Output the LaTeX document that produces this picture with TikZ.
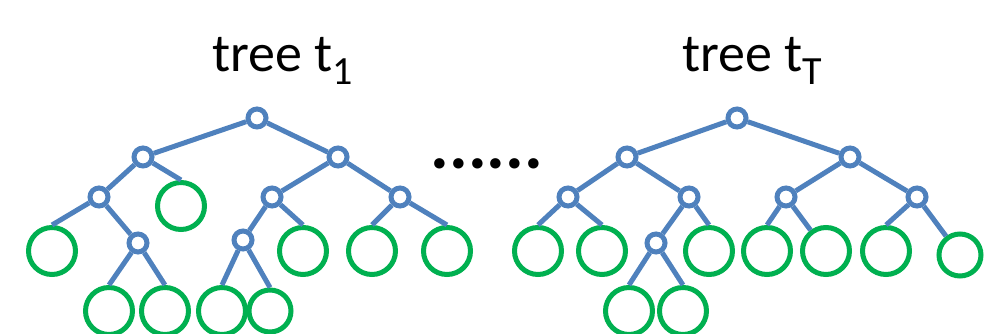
\documentclass[tikz,border=0pt]{standalone}
\usepackage{fontspec}
\setmainfont{Carlito}
\definecolor{tblue}{HTML}{4F81BD}
\definecolor{tgreen}{HTML}{00B050}
\begin{document}
\begin{tikzpicture}[x=1pt,y=-1pt,
  inner/.style={circle,draw=tblue,line width=5pt,fill=white,minimum size=18pt,inner sep=0pt},
  leaf/.style={circle,draw=tgreen,line width=5pt,fill=white,minimum size=47pt,inner sep=0pt},
  sleaf/.style={leaf,minimum size=42pt},
  edge/.style={tblue,line width=5pt},
  title/.style={anchor=base,inner sep=0pt,font=\fontsize{54}{54}\selectfont}]
\useasboundingbox (0,0) rectangle (994,334);
\clip (0,0) rectangle (994,334);
% titles
\node[title] (ti1) at (283,72) {tree t\raisebox{-13pt}{\fontsize{40}{40}\selectfont 1}};
\node[title] (ti2) at (752,72) {tree t\raisebox{-13pt}{\fontsize{40}{40}\selectfont T}};
\node[anchor=base,inner sep=0pt,font=\fontsize{70}{70}\selectfont\bfseries] (dots) at (487,169) {......};
% tree 1 leaves
\node[leaf] (a) at (181,206) {};
\node[leaf] (b) at (52,251) {};
\node[leaf] (c) at (109,311) {};
\node[leaf] (d) at (165,311) {};
\node[leaf] (e) at (303,251) {};
\node[leaf] (f) at (222,311) {};
\node[sleaf] (g) at (270,311) {};
\node[leaf] (h) at (372,251) {};
\node[leaf] (i) at (447,251) {};
% tree 1 inner nodes
\node[inner] (r1) at (257,118) {};
\node[inner] (A) at (143,157) {};
\node[inner] (B) at (338,157) {};
\node[inner] (A1) at (99,197) {};
\node[inner] (A1r) at (138,243) {};
\node[inner] (B1) at (272,197) {};
\node[inner] (B2) at (400,197) {};
\node[inner] (B1l) at (243,240) {};
% tree 1 edges
\draw[edge] (r1) -- (A);
\draw[edge] (r1) -- (B);
\draw[edge] (A) -- (A1);
\draw[edge] (A) -- (a.north);
\draw[edge] (A1) -- (b.north);
\draw[edge] (A1) -- (A1r);
\draw[edge] (A1r) -- (c.north);
\draw[edge] (A1r) -- (d.north);
\draw[edge] (B) -- (B1);
\draw[edge] (B) -- (B2);
\draw[edge] (B1) -- (B1l);
\draw[edge] (B1) -- (e.north);
\draw[edge] (B1l) -- (f.north);
\draw[edge] (B1l) -- (g.north);
\draw[edge] (B2) -- (h.north);
\draw[edge] (B2) -- (i.north);
% tree 2 leaves
\node[leaf] (p) at (538,251) {};
\node[leaf] (q) at (602,251) {};
\node[leaf] (s) at (709,251) {};
\node[leaf] (u) at (629,311) {};
\node[leaf] (v) at (683,311) {};
\node[leaf] (w) at (767,251) {};
\node[leaf] (x) at (826,251) {};
\node[leaf] (y) at (886,251) {};
\node[sleaf] (z) at (960,255) {};
% tree 2 inner nodes
\node[inner] (r2) at (737,118) {};
\node[inner] (L) at (627,157) {};
\node[inner] (R) at (850,157) {};
\node[inner] (L1) at (568,197) {};
\node[inner] (L2) at (689,197) {};
\node[inner] (L2l) at (656,243) {};
\node[inner] (R1) at (786,197) {};
\node[inner] (R2) at (917,197) {};
% tree 2 edges
\draw[edge] (r2) -- (L);
\draw[edge] (r2) -- (R);
\draw[edge] (L) -- (L1);
\draw[edge] (L) -- (L2);
\draw[edge] (L1) -- (p.north);
\draw[edge] (L1) -- (q.north);
\draw[edge] (L2) -- (L2l);
\draw[edge] (L2) -- (s.north);
\draw[edge] (L2l) -- (u.north);
\draw[edge] (L2l) -- (v.north);
\draw[edge] (R) -- (R1);
\draw[edge] (R) -- (R2);
\draw[edge] (R1) -- (w.north);
\draw[edge] (R1) -- (x);
\draw[edge] (R2) -- (y.north);
\draw[edge] (R2) -- (z);
\end{tikzpicture}
\end{document}
